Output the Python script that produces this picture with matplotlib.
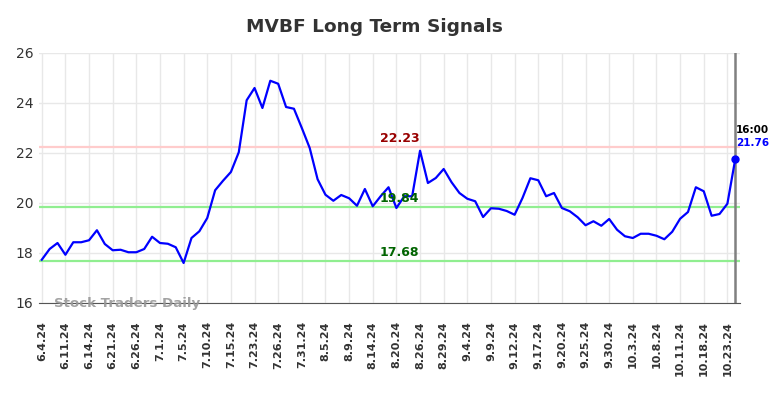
import matplotlib
matplotlib.use('Agg')
import matplotlib.pyplot as plt

# closing prices, one per trading day
prices = [17.73, 18.16, 18.40, 17.93, 18.43, 18.43, 18.51, 18.91, 18.36, 18.11,
          18.13, 18.03, 18.03, 18.16, 18.65, 18.40, 18.37, 18.23, 17.60, 18.60,
          18.87, 19.40, 20.51, 20.89, 21.24, 22.03, 24.11, 24.60, 23.80, 24.89,
          24.77, 23.84, 23.77, 23.00, 22.20, 20.95, 20.33, 20.09, 20.32, 20.19,
          19.89, 20.56, 19.87, 20.27, 20.63, 19.80, 20.27, 20.27, 22.09, 20.80,
          21.00, 21.36, 20.83, 20.40, 20.17, 20.07, 19.44, 19.79, 19.77, 19.68,
          19.53, 20.20, 20.99, 20.91, 20.27, 20.40, 19.80, 19.67, 19.43, 19.11,
          19.27, 19.09, 19.36, 18.93, 18.67, 18.60, 18.77, 18.77, 18.69, 18.55,
          18.85, 19.37, 19.64, 20.63, 20.47, 19.49, 19.56, 19.97, 21.76]

tick_labels = ['6.4.24', '6.11.24', '6.14.24', '6.21.24', '6.26.24', '7.1.24',
               '7.5.24', '7.10.24', '7.15.24', '7.23.24', '7.26.24', '7.31.24',
               '8.5.24', '8.9.24', '8.14.24', '8.20.24', '8.26.24', '8.29.24',
               '9.4.24', '9.9.24', '9.12.24', '9.17.24', '9.20.24', '9.25.24',
               '9.30.24', '10.3.24', '10.8.24', '10.11.24', '10.18.24', '10.23.24']
tick_step = 3

resistance = [22.23]
support = [19.84, 17.68]
last_time = '16:00'

x = list(range(len(prices)))

fig = plt.figure(figsize=(7.84, 3.98), dpi=100)
ax = fig.add_axes([39 / 784, 1 - 303 / 398, 701 / 784, 250 / 398])

ax.grid(True, color='#e8e8e8', linewidth=1)
ax.set_axisbelow(True)

for lvl in resistance:
    ax.axhline(lvl, color='#ffcccc', linewidth=1.6, zorder=1)
for lvl in support:
    ax.axhline(lvl, color='#90ee90', linewidth=1.6, zorder=1)

ax.plot(x, prices, color='#0000ff', linewidth=1.6, zorder=3)
ax.plot(x[-1], prices[-1], 'o', color='#0000ff', markersize=5, zorder=4)
ax.axvline(x[-1], color='#808080', linewidth=1.8, zorder=2)

mid = 45.4
for lvl in resistance:
    ax.text(mid, lvl + 0.08, '%.2f' % lvl, color='#990000', fontsize=9,
            fontweight='bold', ha='center', va='bottom', zorder=5)
for lvl in support:
    ax.text(mid, lvl + 0.08, '%.2f' % lvl, color='#006400', fontsize=9,
            fontweight='bold', ha='center', va='bottom', zorder=5)

ax.text(x[-1] + 0.1, prices[-1] + 0.95, last_time, color='black', fontsize=7.5,
        fontweight='bold', ha='left', va='bottom')
ax.text(x[-1] + 0.1, prices[-1] + 0.45, '%.2f' % prices[-1], color='#0000ff',
        fontsize=7.5, fontweight='bold', ha='left', va='bottom')

ax.text(1.5, 16.0, 'Stock Traders Daily', color='#999999', fontsize=9.6,
        fontweight='bold', ha='left', va='center', alpha=0.9)

ax.set_xlim(-0.35, len(prices) - 1 + 0.6)
ax.set_ylim(16, 26)
ax.set_yticks([16, 18, 20, 22, 24, 26])
ax.set_xticks(x[::tick_step])
ax.set_xticklabels(tick_labels, rotation=90, fontsize=8, fontweight='bold',
                   color='#333333')
ax.tick_params(axis='x', length=0, pad=13)
ax.tick_params(axis='y', length=0, pad=4, labelsize=10, labelcolor='#333333')

for side in ['left', 'right', 'top']:
    ax.spines[side].set_visible(False)
ax.spines['bottom'].set_color('#555555')

fig.suptitle('MVBF Long Term Signals', x=0.478, y=0.955, fontsize=13.3,
             fontweight='bold', color='#333333')

fig.savefig('out.png', dpi=100)
